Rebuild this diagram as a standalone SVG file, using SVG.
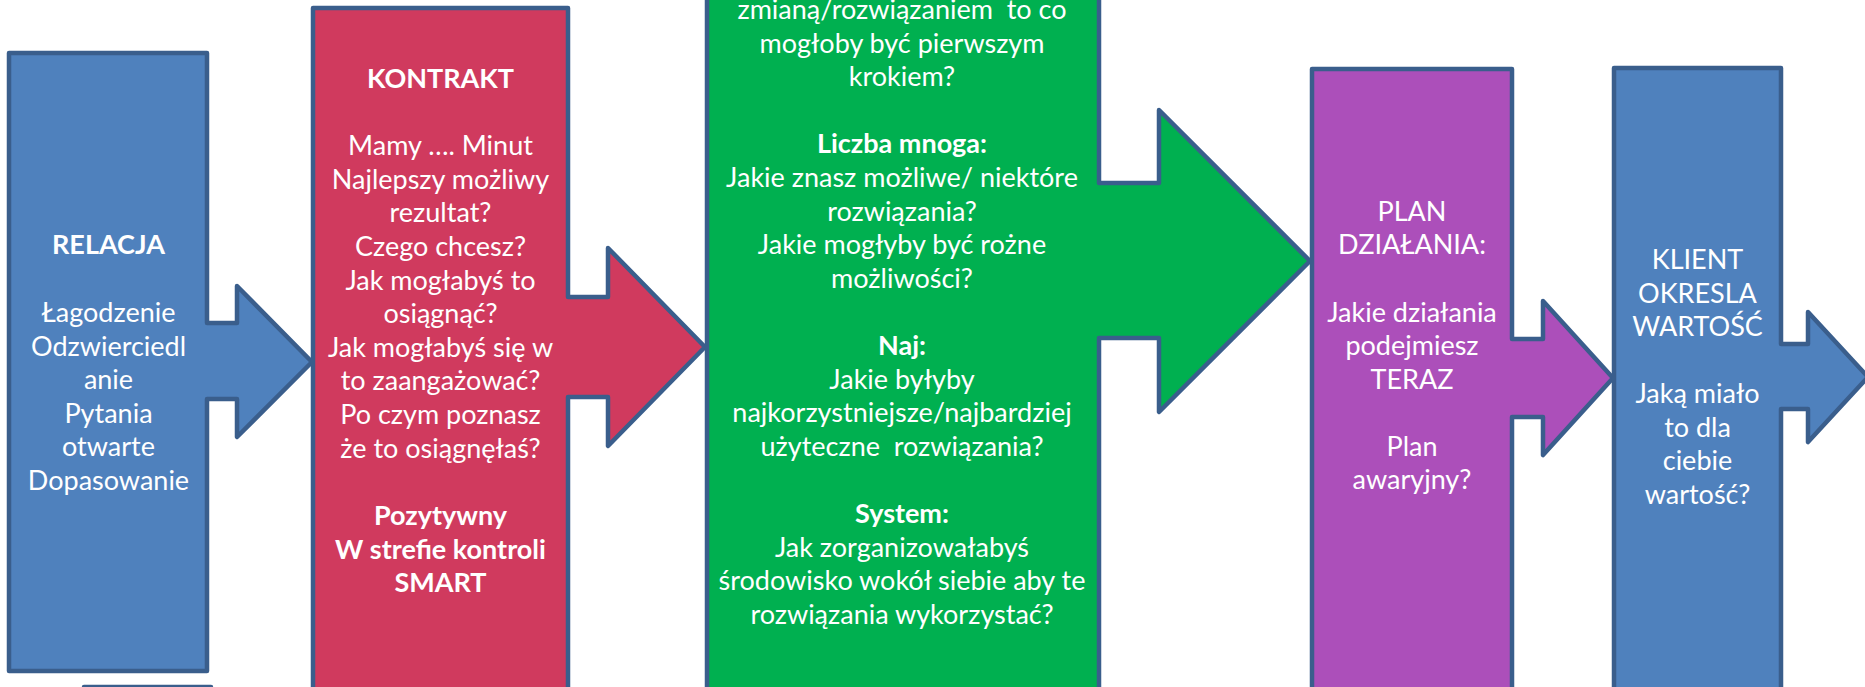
<svg xmlns="http://www.w3.org/2000/svg" width="1865" height="687" viewBox="0 0 1865 687">
<style>
.shape{stroke:#3A5E8C;stroke-width:4.5;stroke-linejoin:round}
.blue{fill:#4F81BD}
.red{fill:#D03A5E}
.green{fill:#00B050}
.purple{fill:#AC4FBA}
.t{font-family:Lato,"Liberation Sans",sans-serif;font-size:27px;fill:#FFFFFF;text-anchor:middle}
.b{font-weight:bold}
</style>
<rect width="1865" height="687" fill="#FFFFFF"/>
<g id="node-relacja">
<path class="shape blue" d="M9,53 H207 V323 H237 V286 L312,362 L237,437 V399 H207 V671 H9 Z"/>
<text class="t" x="108.5" y="254"><tspan class="b">RELACJA</tspan><tspan x="108.5" y="322">Łagodzenie</tspan><tspan x="108.5" y="356">Odzwierciedl</tspan><tspan x="108.5" y="389">anie</tspan><tspan x="108.5" y="423">Pytania</tspan><tspan x="108.5" y="456">otwarte</tspan><tspan x="108.5" y="490">Dopasowanie</tspan></text>
</g>
<g id="node-extra">
<rect class="shape blue" x="84" y="687" width="127" height="40"/>
</g>
<g id="node-kontrakt">
<path class="shape red" d="M313,8 H568 V297 H608 V248 L705,347 L608,446 V397 H568 V700 H313 Z"/>
<text class="t" x="440.5" y="88"><tspan class="b">KONTRAKT</tspan><tspan x="440.5" y="155">Mamy …. Minut</tspan><tspan x="440.5" y="189">Najlepszy możliwy</tspan><tspan x="440.5" y="222">rezultat?</tspan><tspan x="440.5" y="256">Czego chcesz?</tspan><tspan x="440.5" y="290">Jak mogłabyś to</tspan><tspan x="440.5" y="323">osiągnąć?</tspan><tspan x="440.5" y="357">Jak mogłabyś się w</tspan><tspan x="440.5" y="390">to zaangażować?</tspan><tspan x="440.5" y="424">Po czym poznasz</tspan><tspan x="440.5" y="458">że to osiągnęłaś?</tspan><tspan class="b" x="440.5" y="525">Pozytywny</tspan><tspan class="b" x="440.5" y="559">W strefie kontroli</tspan><tspan class="b" x="440.5" y="592">SMART</tspan></text>
</g>
<g id="node-rozwiazania">
<path class="shape green" d="M707,-10 H1099 V183 H1159 V110 L1310,261 L1159,412 V338 H1099 V700 H707 Z"/>
<text class="t" x="902" y="19"><tspan xml:space="preserve">zmianą/rozwiązaniem  to co</tspan><tspan x="902" y="53">mogłoby być pierwszym</tspan><tspan x="902" y="86">krokiem?</tspan><tspan class="b" x="902" y="153">Liczba mnoga:</tspan><tspan x="902" y="187">Jakie znasz możliwe/ niektóre</tspan><tspan x="902" y="221">rozwiązania?</tspan><tspan x="902" y="254">Jakie mogłyby być rożne</tspan><tspan x="902" y="288">możliwości?</tspan><tspan class="b" x="902" y="355">Naj:</tspan><tspan x="902" y="389">Jakie byłyby</tspan><tspan x="902" y="422">najkorzystniejsze/najbardziej</tspan><tspan x="902" y="456" xml:space="preserve">użyteczne  rozwiązania?</tspan><tspan class="b" x="902" y="523">System:</tspan><tspan x="902" y="557">Jak zorganizowałabyś</tspan><tspan x="902" y="590">środowisko wokół siebie aby te</tspan><tspan x="902" y="624">rozwiązania wykorzystać?</tspan></text>
</g>
<g id="node-plan">
<path class="shape purple" d="M1312,69 H1512 V339 H1543 V301 L1613,378 L1543,455 V417 H1512 V700 H1312 Z"/>
<text class="t" x="1412" y="221"><tspan>PLAN</tspan><tspan x="1412" y="254">DZIAŁANIA:</tspan><tspan x="1412" y="322">Jakie działania</tspan><tspan x="1412" y="355">podejmiesz</tspan><tspan x="1412" y="389">TERAZ</tspan><tspan x="1412" y="456">Plan</tspan><tspan x="1412" y="489">awaryjny?</tspan></text>
</g>
<g id="node-wartosc">
<path class="shape blue" d="M1614,68 H1781 V344 H1808 V312 L1868,377 L1808,442 V409 H1781 V700 H1614 Z"/>
<text class="t" x="1697.5" y="269"><tspan>KLIENT</tspan><tspan x="1697.5" y="303">OKRESLA</tspan><tspan x="1697.5" y="336">WARTOŚĆ</tspan><tspan x="1697.5" y="403">Jaką miało</tspan><tspan x="1697.5" y="437">to dla</tspan><tspan x="1697.5" y="470">ciebie</tspan><tspan x="1697.5" y="504">wartość?</tspan></text>
</g>
<g id="connectors"></g>
</svg>
